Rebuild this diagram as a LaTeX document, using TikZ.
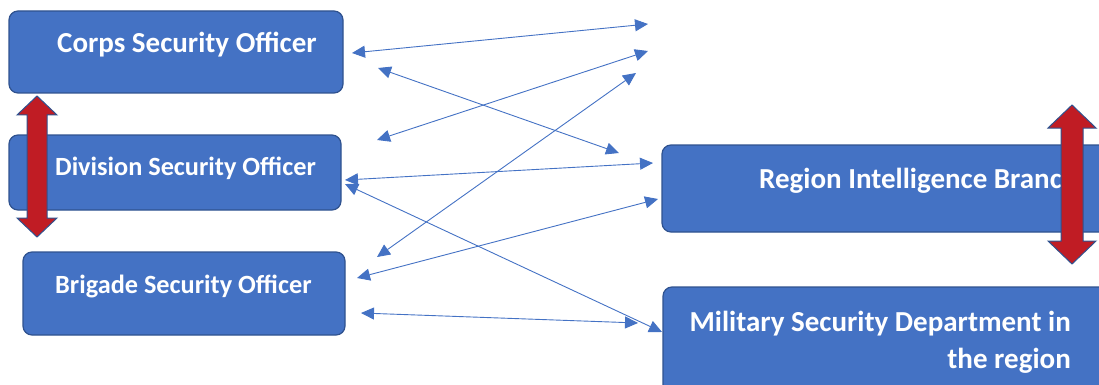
\documentclass[tikz,border=0pt]{standalone}
\usepackage{fontspec}
\setmainfont{Carlito}
\usetikzlibrary{arrows.meta}
\definecolor{boxblue}{RGB}{68,114,196}
\definecolor{boxedge}{RGB}{47,82,143}
\definecolor{arrred}{RGB}{192,28,36}
\tikzset{
  officebox/.style={draw=boxedge, fill=boxblue, line width=1.2pt, rounded corners=9pt},
  boxtext/.style={text=white, font=\fontsize{29}{37}\selectfont\bfseries, inner sep=0pt, anchor=base west},
  smalltext/.style={boxtext, font=\fontsize{26.3}{32}\selectfont\bfseries},
  link/.style={draw=boxblue, line width=0.9pt, {Triangle[length=13pt,width=12pt]}-{Triangle[length=13pt,width=12pt]}},
  bigarrow/.style={draw=boxedge, fill=arrred, line width=1pt, line join=miter}
}
\begin{document}
\begin{tikzpicture}[x=1pt, y=-1pt, line join=round]
  \useasboundingbox (0,0) rectangle (1099,385);
  \clip (0,0) rectangle (1099,385);
  % office boxes
  \draw[officebox] (9,11) rectangle (343,93);
  \node[boxtext] (corps) at (57,53) {Corps Security Officer};
  \draw[officebox] (9,135) rectangle (341,210);
  \node[smalltext] (division) at (55,175) {Division Security Officer};
  \draw[officebox] (23,252) rectangle (345,335);
  \node[smalltext] (brigade) at (55,293) {Brigade Security Officer};
  \draw[officebox] (662,145) rectangle (1120,232);
  \node[boxtext] (region) at (759,188) {Region Intelligence Branch};
  \draw[officebox] (663,287) rectangle (1120,400);
  \node[boxtext, align=right, anchor=base east] (military) at (1071,368) {Military Security Department in\\the region};
  % red double arrows
  \draw[bigarrow] (37,96) -- (57,115) -- (47,115) -- (47,218) -- (57,218) -- (37,237)
    -- (17,218) -- (27,218) -- (27,115) -- (17,115) -- cycle;
  \draw[bigarrow] (1072,105) -- (1096,128) -- (1083,128) -- (1083,241) -- (1096,241) -- (1072,264)
    -- (1048,241) -- (1061,241) -- (1061,128) -- (1048,128) -- cycle;
  % arrow ends
  \coordinate (a1) at (352,53);  \coordinate (b1) at (648,24);
  \coordinate (a2) at (378,68);  \coordinate (b2) at (619,153);
  \coordinate (a3) at (377,140); \coordinate (b3) at (648,51);
  \coordinate (a4) at (345,180); \coordinate (b4) at (653,163);
  \coordinate (a5) at (377,257); \coordinate (b5) at (636,73);
  \coordinate (a6) at (357,278); \coordinate (b6) at (658,199);
  \coordinate (a7) at (345,184); \coordinate (b7) at (662,332);
  \coordinate (a8) at (361,313); \coordinate (b8) at (638,323);
  \foreach \i in {1,...,8}
    \draw[link] (a\i) -- (b\i);
\end{tikzpicture}
\end{document}
